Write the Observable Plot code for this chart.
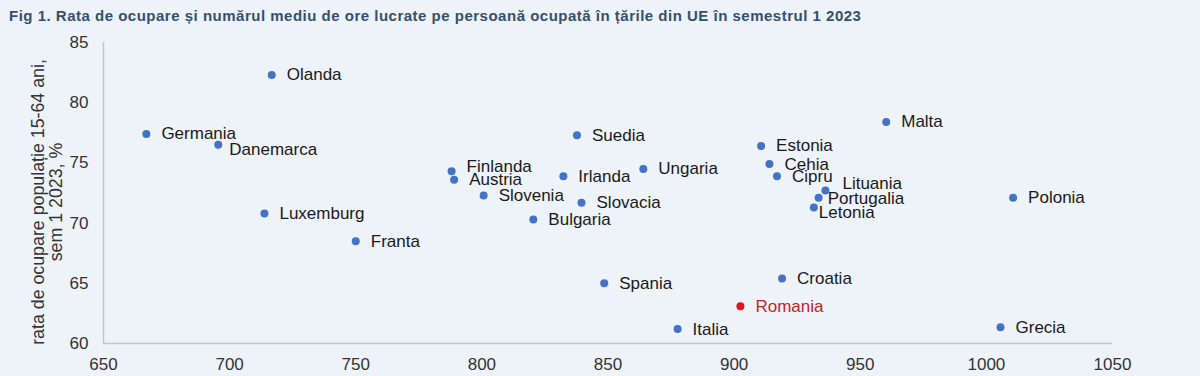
<!DOCTYPE html>
<html>
<head>
<meta charset="utf-8">
<script src="https://cdn.jsdelivr.net/npm/d3@7"></script>
<script src="https://cdn.jsdelivr.net/npm/@observablehq/plot@0.6"></script>
<style>
  html, body { margin: 0; padding: 0; background: #eef2f9; width: 1200px; height: 376px; overflow: hidden; }
  #title { font-family: "Liberation Sans", Arial, sans-serif; font-weight: bold; font-size: 15px; letter-spacing: 0.5px; color: #34506f; padding: 2px 0 0 9px; height: 28px; line-height: 28px; white-space: nowrap; }
  #chart svg { display: block; background: transparent; }
</style>
</head>
<body>
<div id="title">Fig 1. Rata de ocupare și numărul mediu de ore lucrate pe persoană ocupată în țările din UE în semestrul 1 2023</div>
<div id="chart"></div>
<script>
const countries = ["Olanda","Germania","Danemarca","Luxemburg","Franta","Suedia","Finlanda","Austria","Slovenia","Irlanda","Ungaria","Slovacia","Bulgaria","Malta","Estonia","Cehia","Cipru","Lituania","Portugalia","Letonia","Spania","Croatia","Romania","Italia","Polonia","Grecia"];
const hoursWorked = [716.7,667,695.5,713.8,750,837.7,788,789,800.7,832.3,864,839.5,820.4,960.3,910.7,914,917,936.2,933.5,931.6,848.5,919,902.5,877.6,1010.6,1005.6];
const employmentRate = [82.3,77.4,76.5,70.8,68.5,77.3,74.3,73.6,72.3,73.9,74.5,71.7,70.3,78.4,76.4,74.9,73.9,72.7,72.1,71.3,65.0,65.4,63.1,61.2,72.1,61.35];
const xTicks = [650,700,750,800,850,900,950,1000,1050];
const yTicks = [60,65,70,75,80,85];
const highlight = "Romania";
const yLabel = "rata de ocupare populație 15-64 ani,\nsem 1 2023, %";

const data = countries.map((c, i) => ({country: c, hours: hoursWorked[i], rate: employmentRate[i]}));

// label nudges (styling only)
const nudges = {Danemarca: [-4, 5], Finlanda: [0, -5], Lituania: [2, -7], Portugalia: [-6, 1], Letonia: [-10, 5]};
const baseDx = 15;
const FONT = "Liberation Sans, Arial, sans-serif";

const labelMarks = [];
labelMarks.push(Plot.text(data.filter(d => !(d.country in nudges)), {
  x: "hours", y: "rate", text: "country", textAnchor: "start", dx: baseDx, dy: 0,
  fill: d => d.country === highlight ? "#c0262d" : "#1a1a1a", fontSize: 17
}));
for (const [k, [ddx, ddy]] of Object.entries(nudges)) {
  labelMarks.push(Plot.text(data.filter(d => d.country === k), {
    x: "hours", y: "rate", text: "country", textAnchor: "start", dx: baseDx + ddx, dy: ddy,
    fill: "#1a1a1a", fontSize: 17
  }));
}

const chart = Plot.plot({
  width: 1200,
  height: 346,
  marginLeft: 103,
  marginRight: 88,
  marginTop: 12,
  marginBottom: 33,
  style: {fontFamily: FONT, background: "transparent", overflow: "visible"},
  x: {domain: [650, 1050]},
  y: {domain: [60, 85]},
  marks: [
    Plot.ruleX([650], {stroke: "#c4c4c4", strokeWidth: 1.5}),
    Plot.ruleY([60], {stroke: "#c4c4c4", strokeWidth: 1.5}),
    Plot.axisX({ticks: xTicks, tickSize: 0, tickPadding: 14, fontSize: 17, label: null, tickFormat: d => String(d), fill: "#333"}),
    Plot.axisY({ticks: yTicks, tickSize: 0, tickPadding: 15, fontSize: 17, label: null, tickFormat: d => String(d), fill: "#333"}),
    Plot.text([yLabel], {frameAnchor: "left", text: d => d, rotate: -90, dx: -56.5, dy: 9, fontSize: 17.8, fill: "#333", lineHeight: 1, textAnchor: "middle"}),
    Plot.dot(data, {x: "hours", y: "rate", r: 4, fill: d => d.country === highlight ? "#e8101a" : "#4472c4", stroke: "none"}),
    ...labelMarks
  ]
});
document.getElementById("chart").appendChild(chart);
</script>
</body>
</html>
